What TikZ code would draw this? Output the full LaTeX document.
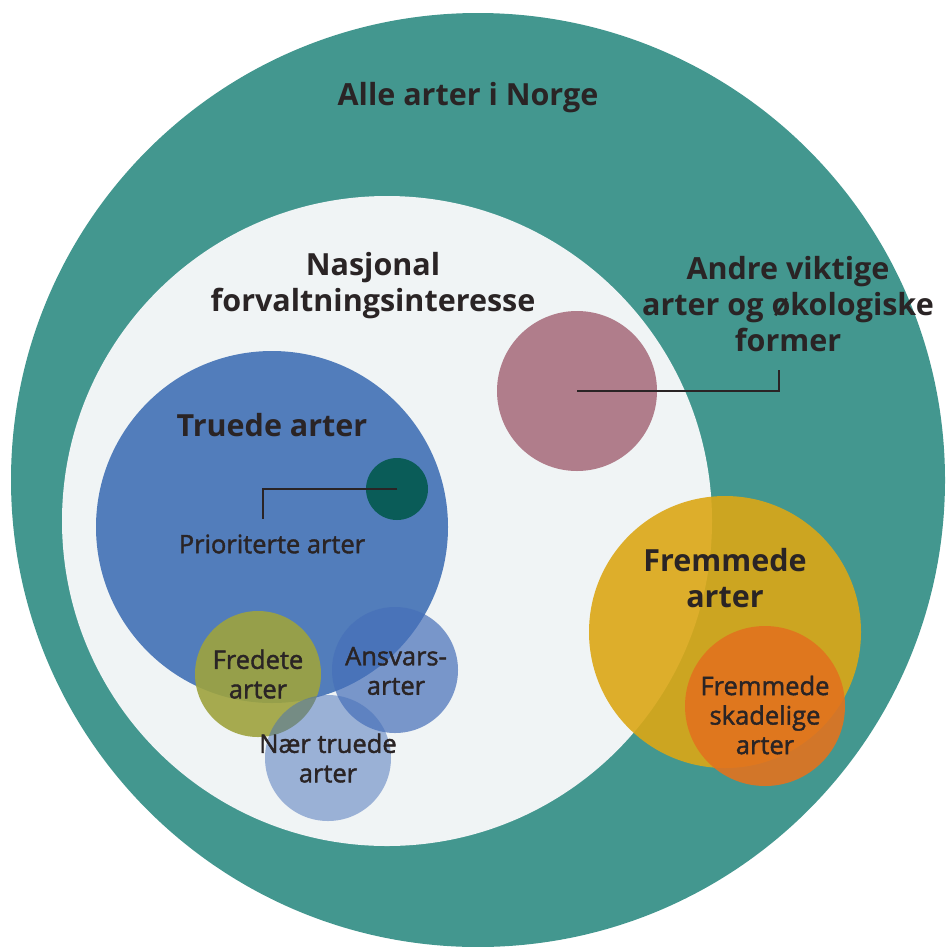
\documentclass[tikz,border=0pt]{standalone}
\usepackage{fontspec}
\setmainfont{Open Sans}
\newfontfamily\halvfet[FakeBold=1.6]{Open Sans}
\usepackage{xcolor}
\usepackage{tikz}
\usetikzlibrary{calc, positioning}

\definecolor{tealbg}{RGB}{67,151,143}
\definecolor{lightbg}{RGB}{240,244,245}
\definecolor{truedeblue}{RGB}{82,125,187}
\definecolor{priogreen}{RGB}{10,92,88}
\definecolor{mauve}{RGB}{176,125,139}
\definecolor{fremyellow}{RGB}{219,167,22}
\definecolor{fremorange}{RGB}{226,115,30}
\definecolor{olive}{RGB}{158,163,62}
\definecolor{paleblue}{RGB}{70,111,185}
\definecolor{labeltext}{RGB}{42,36,37}

\tikzset{
    sirkel/.style={circle, inner sep=0pt, minimum size=#1},
    stortekst/.style={text=labeltext, align=center, font=\bfseries\fontsize{30.5}{36}\selectfont},
    litentekst/.style={text=labeltext, align=center, font=\halvfet\fontsize{25.5}{29.5}\selectfont},
    leder/.style={draw=labeltext, line width=1.1pt}
}

\begin{document}
\begin{tikzpicture}[x=1pt, y=-1pt]

    \useasboundingbox (0,0) rectangle (947,946);

    % =================================================================
    % 1. STORE SIRKLER (ALLE ARTER, NASJONAL FORVALTNINGSINTERESSE)
    % =================================================================
    \node[sirkel=934pt, fill=tealbg] (alle) at (478,480) {};
    \node[sirkel=650pt, fill=lightbg] (nasjonal) at (387,521) {};

    % =================================================================
    % 2. TRUEDE ARTER OG PRIORITERTE ARTER
    % =================================================================
    \node[sirkel=352pt, fill=truedeblue] (truede) at (272,527) {};
    \node[sirkel=62pt, fill=priogreen] (prio) at (397,489) {};

    % Andre viktige arter
    \node[sirkel=160pt, fill=mauve] (andre) at (577,391) {};

    % =================================================================
    % 3. FREMMEDE ARTER
    % =================================================================
    \node[sirkel=272pt, fill=fremyellow, fill opacity=0.9] (fremmede) at (725,632) {};
    \node[sirkel=160pt, fill=fremorange, fill opacity=0.9] (skadelige) at (765,706) {};

    % =================================================================
    % 4. SMÅ SIRKLER (FREDETE, ANSVARS, NÆR TRUEDE)
    % =================================================================
    \node[sirkel=126pt, fill=olive, fill opacity=0.9] (fredete) at (258,674) {};
    \node[sirkel=126pt, fill=paleblue, fill opacity=0.7] (ansvars) at (395,670) {};
    \node[sirkel=126pt, fill=paleblue, fill opacity=0.5] (naer) at (328,758) {};

    % =================================================================
    % 5. TEKSTER OG STREKER
    % =================================================================
    \node[stortekst] (tAlle) at (468,98) {Alle arter i Norge};
    \node[stortekst] (tNasjonal) at (373,286) {Nasjonal\\forvaltningsinteresse};
    \node[stortekst] (tAndre) at (788,304) {Andre viktige\\arter og økologiske\\former};
    \node[stortekst] (tTruede) at (272,425) {Truede arter};
    \node[stortekst] (tFremmede) at (725,578) {Fremmede\\arter};

    \node[litentekst] (tPrio) at (272,544) {Prioriterte arter};
    \node[litentekst] (tSkadelige) at (765,715) {Fremmede\\skadelige\\arter};
    \node[litentekst] (tFredete) at (258,674) {Fredete\\arter};
    \node[litentekst] (tAnsvars) at (396,671) {Ansvars-\\arter};
    \node[litentekst] (tNaer) at (328,758) {Nær truede\\arter};

    % Ledelinjer
    \coordinate (prioend) at (263,519);
    \coordinate (andreend) at (779,370);
    \draw[leder] (prio.center) -| (prioend);
    \draw[leder] (andre.center) -| (andreend);

\end{tikzpicture}
\end{document}
